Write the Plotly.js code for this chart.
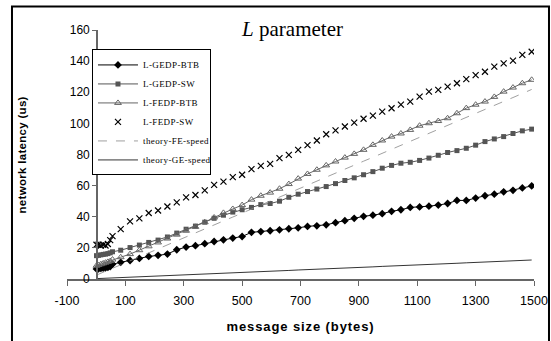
<!DOCTYPE html>
<html>
<head>
<meta charset="utf-8">
<script src="https://cdn.plot.ly/plotly-3.0.1.min.js"></script>
<style>
html,body{margin:0;padding:0;background:#fff;}
#chart{width:551px;height:341px;}
#chart .xtitle{letter-spacing:0.9px;}
#chart .annotation-text{letter-spacing:0.3px;}
#chart .legendtext{letter-spacing:0.4px;}
</style>
</head>
<body>
<div id="chart"></div>
<script>
// message sizes (bytes)
const sizes = [1,8,16,24,32,40,48,56,
  84,116,148,180,212,244,276,308,340,372,404,436,468,500,532,564,596,628,660,692,
  724,756,788,820,852,884,916,948,980,1012,1044,1076,1108,1140,1172,1204,1236,1268,
  1300,1332,1364,1396,1428,1460,1492];

const seriesNames = ["L-GEDP-BTB","L-GEDP-SW","L-FEDP-BTB","L-FEDP-SW","theory-FE-speed","theory-GE-speed"];

const gedpBTB = [6.5,6.6,6.8,7.0,7.2,7.5,8.0,9.5,
  10.7,11.9,13.2,14.5,15.2,16.0,18.8,20.5,21.4,22.7,24.1,25.2,26.3,27.3,30.0,30.5,31.0,31.6,32.3,32.9,
  33.8,34.2,34.8,36.2,37.5,39.0,40.3,41.0,42.0,43.5,44.5,46.0,46.3,46.8,47.5,48.5,50.5,50.5,
  52.0,53.5,54.5,56.0,57.0,58.5,59.8];

const gedpSW = [15.0,15.2,15.5,15.8,16.0,16.3,16.8,17.5,
  18.5,20.2,21.8,23.5,25.0,27.0,29.5,32.0,34.0,36.5,39.0,41.0,43.0,44.5,46.0,47.8,48.5,50.0,52.5,54.5,
  56.2,57.8,59.4,61.3,63.3,65.0,67.0,69.0,71.2,73.0,74.4,75.0,76.2,77.7,79.5,81.3,82.5,84.0,
  86.0,88.3,90.0,91.5,93.5,95.2,96.3];

const fedpBTB = [8.5,9.0,9.5,10.0,10.5,11.0,11.5,12.5,
  14.0,16.0,18.5,21.0,23.5,26.0,28.5,31.0,33.5,36.5,39.5,42.5,45.0,47.5,51.0,53.5,55.5,58.0,61.0,64.5,
  67.5,70.2,73.0,75.5,78.0,80.4,83.0,86.2,89.0,91.5,93.5,95.8,98.5,100.1,101.5,103.3,106.5,109.8,
  112.0,114.0,117.0,120.4,123.0,125.8,128.0];

const fedpSW = [22.0,22.0,21.5,22.0,21.5,22.5,25.0,27.5,
  32.0,37.0,39.0,42.4,44.0,46.6,49.2,52.4,54.0,56.9,60.5,62.6,65.5,67.0,70.6,72.7,74.0,77.7,79.8,83.0,
  86.0,89.0,93.0,95.5,98.0,100.5,103.0,105.0,107.5,109.7,112.0,114.0,117.2,120.4,121.5,123.6,125.8,128.4,
  131.0,133.2,136.5,138.6,140.3,144.0,146.0];

const theoryFE = [2.5,3.0,3.7,4.3,5.0,5.6,6.2,6.9,
  9.1,11.7,14.2,16.8,19.4,21.9,24.5,27.0,29.6,32.2,34.7,37.3,39.8,42.4,45.0,47.5,50.1,52.6,55.2,57.8,
  60.3,62.9,65.4,68.0,70.6,73.1,75.7,78.2,80.8,83.4,85.9,88.5,91.0,93.6,96.2,98.7,101.3,103.8,
  106.4,109.0,111.5,114.1,116.6,119.2,121.8];

const theoryGE = [0.25,0.3,0.4,0.4,0.5,0.6,0.6,0.7,
  0.9,1.2,1.4,1.7,1.9,2.2,2.4,2.7,3.0,3.2,3.5,3.7,4.0,4.2,4.5,4.8,5.0,5.3,5.5,5.8,
  6.0,6.3,6.5,6.8,7.1,7.3,7.6,7.8,8.1,8.3,8.6,8.8,9.1,9.4,9.6,9.9,10.1,10.4,
  10.6,10.9,11.2,11.4,11.7,11.9,12.2];

const xTickVals = [-100,100,300,500,700,900,1100,1300,1500];
const yTickVals = [0,20,40,60,80,100,120,140,160];
const yTitleText = 'network latency (us)';

const traces = [
  {x:sizes, y:gedpBTB, name:seriesNames[0], type:'scatter', mode:'lines+markers',
   line:{color:'#000', width:1}, marker:{symbol:'diamond', size:6, color:'#000'}},
  {x:sizes, y:gedpSW, name:seriesNames[1], type:'scatter', mode:'lines+markers',
   line:{color:'#555', width:1}, marker:{symbol:'square', size:5, color:'#555'}},
  {x:sizes, y:fedpBTB, name:seriesNames[2], type:'scatter', mode:'lines+markers',
   line:{color:'#666', width:1}, marker:{symbol:'triangle-up-open', size:6, color:'#666', line:{width:1, color:'#666'}}},
  {x:sizes, y:fedpSW, name:seriesNames[3], type:'scatter', mode:'markers',
   marker:{symbol:'x-thin-open', size:6, color:'#000', line:{width:1.2, color:'#000'}}},
  {x:sizes, y:theoryFE, name:seriesNames[4], type:'scatter', mode:'lines',
   line:{color:'#888', width:0.8, dash:'dash'}},
  {x:sizes, y:theoryGE, name:seriesNames[5], type:'scatter', mode:'lines',
   line:{color:'#000', width:0.8}}
];

const layout = {
  width:551, height:341,
  margin:{l:67, r:17, t:30, b:62},
  paper_bgcolor:'#fff', plot_bgcolor:'rgba(0,0,0,0)',
  showlegend:true,
  title:{text:'<i>L</i> parameter', font:{family:'Liberation Serif, Times New Roman, serif', size:21, color:'#000'},
    x:0.483, xref:'paper', xanchor:'center', y:0.915, yref:'container', yanchor:'middle'},
  xaxis:{range:[-100,1500], tickvals:xTickVals, ticktext:xTickVals.map(String),
    showgrid:false, zeroline:false, showline:true, linecolor:'#666', linewidth:1.5,
    ticks:'outside', ticklen:5, tickcolor:'#666', tickwidth:1,
    tickfont:{family:'Liberation Sans, Arial, sans-serif', size:12.5, color:'#000'},
    ticklabelstandoff:4,
    title:{text:'<b>message size (bytes)</b>', font:{family:'Liberation Sans, Arial, sans-serif', size:13, color:'#000'}, standoff:15}},
  yaxis:{range:[0,160], tickvals:yTickVals, ticktext:yTickVals.map(String),
    anchor:'free', position:0.0625,
    showgrid:false, zeroline:false, showline:true, linecolor:'#666', linewidth:1.5,
    ticks:'outside', ticklen:4, tickcolor:'#666', tickwidth:1,
    tickfont:{family:'Liberation Sans, Arial, sans-serif', size:12, color:'#000'}},
  annotations:[
    {text:'<b>'+yTitleText+'</b>', xref:'paper', yref:'paper', x:-0.0964, y:0.5,
     xanchor:'center', yanchor:'middle', textangle:-90, showarrow:false,
     font:{family:'Liberation Sans, Arial, sans-serif', size:11.5, color:'#000'}}
  ],
  legend:{x:0.0535, y:0.922, xanchor:'left', yanchor:'top', bgcolor:'#fff',
    bordercolor:'#000', borderwidth:1, itemwidth:40,
    font:{family:'Liberation Serif, Times New Roman, serif', size:9, color:'#000'},
    tracegroupgap:0},
  shapes:[
    {type:'rect', xref:'paper', yref:'paper', x0:-0.1178, x1:1.0321, y0:-0.28, y1:1.094,
     line:{color:'#000', width:2}, fillcolor:'rgba(0,0,0,0)', layer:'below'}
  ]
};

Plotly.newPlot('chart', traces, layout, {staticPlot:true, displayModeBar:false});
</script>
</body>
</html>
